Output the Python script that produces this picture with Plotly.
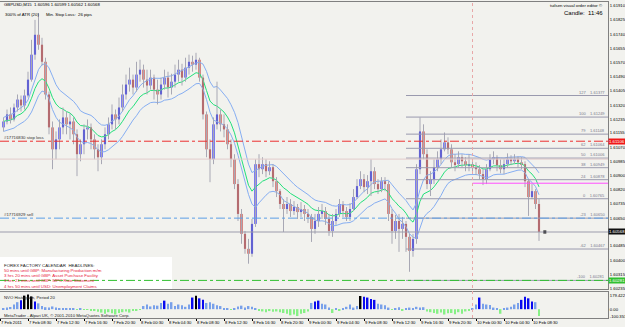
import plotly.graph_objects as go
import pandas as pd

# ---------------- data ----------------
title_text = "GBPUSD,M15  1.60596 1.60599 1.60562 1.60568"
bar_start = "2011-02-07 05:00"
first_open = 1.61188

close = [
1.61223, 1.61265, 1.61235, 1.61306, 1.61353, 1.61318, 1.61377, 1.61471, 1.61619, 1.61737,
1.61678, 1.61577, 1.61383, 1.61188, 1.61058, 1.61117, 1.61188, 1.61247, 1.61206, 1.61223,
1.61147, 1.61029, 1.61088, 1.61176, 1.61188, 1.61117, 1.61058, 1.61011, 1.61088, 1.61147,
1.61206, 1.61265, 1.61235, 1.61306, 1.61383, 1.61442, 1.61471, 1.61424, 1.61501, 1.61530,
1.61471, 1.61436, 1.61483, 1.61412, 1.61383, 1.61442, 1.61483, 1.61424, 1.61459, 1.61501,
1.61530, 1.61483, 1.61542, 1.61577, 1.61560, 1.61589, 1.61483, 1.61265, 1.61058, 1.60999,
1.61206, 1.61265, 1.61206, 1.61176, 1.61088, 1.60999, 1.60852, 1.60675, 1.60557, 1.60468,
1.60439, 1.60616, 1.60970, 1.60940, 1.60970, 1.60928, 1.60952, 1.60869, 1.60810, 1.60734,
1.60704, 1.60734, 1.60692, 1.60716, 1.60686, 1.60704, 1.60675, 1.60657, 1.60586, 1.60633,
1.60675, 1.60692, 1.60645, 1.60574, 1.60633, 1.60675, 1.60734, 1.60692, 1.60657, 1.60704,
1.60775, 1.60840, 1.60881, 1.60834, 1.60869, 1.60928, 1.60852, 1.60822, 1.60869, 1.60852,
1.60675, 1.60574, 1.60633, 1.60586, 1.60616, 1.60539, 1.60456, 1.60527, 1.60940, 1.61164,
1.61029, 1.60852, 1.60881, 1.60952, 1.60999, 1.61058, 1.61099, 1.61058, 1.60981, 1.60970,
1.61011, 1.60987, 1.60964, 1.60970, 1.60952, 1.60940, 1.60911, 1.60881, 1.60940, 1.60999,
1.61011, 1.60964, 1.60940, 1.60970, 1.60999, 1.60987, 1.60999, 1.60981, 1.60970, 1.60869,
1.60775, 1.60810, 1.60734, 1.60568]

high = [
1.61247, 1.61294, 1.61306, 1.61329, 1.61383, 1.61377, 1.61412, 1.61518, 1.61707, 1.61825,
1.61866, 1.61719, 1.61601, 1.61400, 1.61223, 1.61164, 1.61235, 1.61306, 1.61282, 1.61270,
1.61247, 1.61176, 1.61117, 1.61206, 1.61235, 1.61211, 1.61147, 1.61088, 1.61117, 1.61188,
1.61247, 1.61324, 1.61294, 1.61365, 1.61442, 1.61501, 1.61542, 1.61501, 1.61577, 1.61589,
1.61560, 1.61530, 1.61530, 1.61501, 1.61471, 1.61483, 1.61530, 1.61518, 1.61506, 1.61560,
1.61589, 1.61565, 1.61601, 1.61619, 1.61613, 1.61630, 1.61601, 1.61501, 1.61282, 1.61117,
1.61247, 1.61459, 1.61294, 1.61265, 1.61206, 1.61117, 1.61029, 1.60881, 1.60704, 1.60574,
1.60527, 1.60645, 1.60999, 1.61029, 1.61011, 1.60999, 1.60987, 1.60970, 1.60893, 1.60822,
1.60763, 1.60775, 1.60763, 1.60751, 1.60734, 1.60745, 1.60728, 1.60704, 1.60675, 1.60675,
1.60716, 1.60734, 1.60716, 1.60675, 1.60675, 1.60704, 1.60763, 1.60751, 1.60716, 1.60739,
1.60822, 1.60881, 1.60928, 1.60911, 1.60905, 1.60999, 1.60952, 1.60881, 1.60893, 1.60893,
1.60869, 1.60704, 1.60669, 1.60675, 1.60657, 1.60633, 1.60557, 1.60557, 1.60970, 1.61247,
1.61206, 1.61058, 1.60928, 1.60999, 1.61046, 1.61117, 1.61158, 1.61129, 1.61088, 1.61029,
1.61046, 1.61029, 1.61011, 1.61029, 1.60999, 1.60981, 1.60964, 1.60940, 1.60970, 1.61029,
1.61046, 1.61023, 1.60999, 1.60999, 1.61034, 1.61023, 1.61029, 1.61017, 1.61011, 1.60987,
1.60881, 1.60852, 1.60822, 1.60763]

low = [
1.61164, 1.61206, 1.61211, 1.61223, 1.61282, 1.61282, 1.61294, 1.61365, 1.61459, 1.61589,
1.61648, 1.61554, 1.61353, 1.61147, 1.60940, 1.60999, 1.61058, 1.61147, 1.61147, 1.61117,
1.61088, 1.60899, 1.60987, 1.61029, 1.61117, 1.61058, 1.60999, 1.60928, 1.60970, 1.61058,
1.61117, 1.61176, 1.61176, 1.61206, 1.61282, 1.61353, 1.61400, 1.61383, 1.61400, 1.61459,
1.61424, 1.61383, 1.61412, 1.61353, 1.61324, 1.61353, 1.61412, 1.61365, 1.61383, 1.61424,
1.61459, 1.61436, 1.61459, 1.61501, 1.61518, 1.61530, 1.61459, 1.61235, 1.61011, 1.60863,
1.60970, 1.61176, 1.61164, 1.61129, 1.61058, 1.60952, 1.60822, 1.60633, 1.60498, 1.60439,
1.60380, 1.60421, 1.60598, 1.60893, 1.60911, 1.60893, 1.60905, 1.60834, 1.60775, 1.60704,
1.60568, 1.60675, 1.60657, 1.60669, 1.60645, 1.60657, 1.60633, 1.60621, 1.60509, 1.60557,
1.60598, 1.60645, 1.60610, 1.60545, 1.60539, 1.60610, 1.60657, 1.60657, 1.60633, 1.60633,
1.60692, 1.60763, 1.60822, 1.60804, 1.60793, 1.60781, 1.60822, 1.60793, 1.60804, 1.60810,
1.60633, 1.60498, 1.60527, 1.60450, 1.60527, 1.60450, 1.60332, 1.60421, 1.60498, 1.60911,
1.60999, 1.60822, 1.60781, 1.60852, 1.60928, 1.60970, 1.61046, 1.61029, 1.60952, 1.60928,
1.60952, 1.60952, 1.60928, 1.60928, 1.60916, 1.60905, 1.60881, 1.60846, 1.60852, 1.60928,
1.60970, 1.60928, 1.60916, 1.60911, 1.60952, 1.60964, 1.60970, 1.60952, 1.60940, 1.60834,
1.60663, 1.60763, 1.60704, 1.60515]

nvo = [
10, 20, 28, 60, 90, 115, 175, 190, 165, 100,
75, 40, 25, 20, 35, 20, 15, 10, 8, 5,
5, -5, 5, -8, -10, -15, -20, -35, -45, -60,
-40, -55, -70, -50, -40, -30, -45, -25, -20, -10,
40, 60, 35, 50, 45, 80, 110, 70, 90, 40,
60, 50, 30, 60, 150, 175, 140, 120, 80, 90,
70, 50, 40, 10, 5, -5, 8, 35, 45, 20,
40, 30, 10, -20, -30, -40, -25, -35, -30, -40,
-50, -60, -80, -70, -90, -60, -50, -30, 80, 100,
110, 70, 60, 20, -50, 10, -20, 15, 30, 60,
20, 40, 170, 160, 150, 130, 120, 70, 60, 50,
20, -10, 15, 25, -20, 10, 20, 15, 30, 20,
25, -30, -40, -50, -60, -45, -70, -55, -50, -65,
-40, -60, -30, -20, 5, 60, 150, 70, 60, 55,
20, 10, -60, 15, 20, 30, 60, 80, 120, 160,
140, 100, 90, -90]

price_ticks = [1.61910, 1.61825, 1.61740, 1.61655, 1.61570, 1.61490, 1.61405, 1.61320,
               1.61235, 1.61155, 1.61070, 1.60985, 1.60900, 1.60820, 1.60735, 1.60650,
               1.60485, 1.60400, 1.60315, 1.60235]
nvo_ticks = [179.422, 0.0, -100.353]
nvo_tick_text = ["179.422", "0.00", "-100.353"]

time_ticks = ["2011-02-07 04:30", "2011-02-07 08:30", "2011-02-07 12:30", "2011-02-07 16:30",
              "2011-02-07 20:30", "2011-02-08 00:30", "2011-02-08 04:30", "2011-02-08 08:30",
              "2011-02-08 12:30", "2011-02-08 16:30", "2011-02-08 20:30", "2011-02-09 00:30",
              "2011-02-09 04:30", "2011-02-09 08:30", "2011-02-09 12:30", "2011-02-09 16:30",
              "2011-02-09 20:30", "2011-02-10 00:30", "2011-02-10 04:30", "2011-02-10 08:30"]
time_tick_text = ["7 Feb 2011", "7 Feb 08:30", "7 Feb 12:30", "7 Feb 16:30", "7 Feb 20:30",
                  "8 Feb 00:30", "8 Feb 04:30", "8 Feb 08:30", "8 Feb 12:30", "8 Feb 16:30",
                  "8 Feb 20:30", "9 Feb 00:30", "9 Feb 04:30", "9 Feb 08:30", "9 Feb 12:30",
                  "9 Feb 16:30", "9 Feb 20:30", "10 Feb 00:30", "10 Feb 04:30", "10 Feb 08:30"]

fib_levels = ["127", "100", "79", "62", "50", "38", "24", "0", "-23", "-62", "-100"]
fib_prices = [1.61377, 1.61249, 1.61148, 1.61064, 1.61006, 1.60949, 1.60878,
              1.60765, 1.60650, 1.60467, 1.60281]
fib_start = "2011-02-09 14:30"

stop_loss = 1.61106
sell_price = 1.60650
bid_price = 1.60568
take_profit = 1.60281
round_level = 1.61000
magenta_level = 1.60857
day_separator = "2011-02-10 00:00"
last_tick_time = "2011-02-10 10:20"

calendar_head = "FOREX FACTORY CALENDAR  HEADLINES:"
calendar_lines = ["50 mins until GBP: Manufacturing Production m/m",
                  "3 hrs 20 mins until GBP: Asset Purchase Facility",
                  "3 hrs 21 mins until GBP: MPC Rate Statement",
                  "4 hrs 50 mins until USD: Unemployment Claims"]

# ---------------- styling ----------------
BG = "#f2f2ee"
BULL = "#1c1cf0"
BEAR = "#c0302c"
WICK = "#a8a8b4"
FONT = "Liberation Sans, Arial, sans-serif"
FS = 4.3

W, H = 625, 327
ML, MR, MT, MB = 0, 17, 2, 9
PW, PH = W - ML - MR, H - MT - MB
X_END = "2011-02-10 19:21:26"


def px_x(px):
    return px / PW


def px_y(py):
    return (H - MB - py) / PH


def ema(vals, n):
    a = 2.0 / (n + 1)
    out, e = [], vals[0]
    for v in vals:
        e = e + a * (v - e)
        out.append(e)
    return out


times = pd.date_range(bar_start, periods=len(close), freq="30min")
opens = [first_open] + close[:-1]

fig = go.Figure()

# moving average channel
for series, col in ((high, "#86aef2"), (low, "#86aef2"), (close, "#22e07a")):
    fig.add_trace(go.Scatter(x=times, y=ema(series, 12), mode="lines",
                             line=dict(color=col, width=1), hoverinfo="skip",
                             xaxis="x", yaxis="y"))

# wicks
wx, wy = [], []
for t, h_, l_ in zip(times, high, low):
    wx += [t, t, None]
    wy += [l_, h_, None]
fig.add_trace(go.Scatter(x=wx, y=wy, mode="lines", line=dict(color=WICK, width=1),
                         hoverinfo="skip", xaxis="x", yaxis="y"))

# bodies
base = [min(o, c) for o, c in zip(opens, close)]
body = [max(abs(c - o), 0.00003) for o, c in zip(opens, close)]
bcol = [BULL if c >= o else BEAR for o, c in zip(opens, close)]
fig.add_trace(go.Bar(x=times, y=body, base=base, marker=dict(color=bcol, line=dict(width=0)),
                     width=0.3 * 3600 * 1000, xaxis="x", yaxis="y"))

# last tick marker
fig.add_trace(go.Scatter(x=[last_tick_time], y=[bid_price], mode="markers",
                         marker=dict(symbol="square", size=3, color="#000"),
                         xaxis="x", yaxis="y"))

# NVO histogram
vcol = []
for v in nvo:
    if v >= 165:
        vcol.append("#000000")
    elif v >= 100:
        vcol.append("#0a0af0")
    elif v > 0:
        vcol.append("#78a0ea")
    else:
        vcol.append("#86f086")
fig.add_trace(go.Bar(x=times, y=nvo, marker=dict(color=vcol, line=dict(width=0)),
                     width=0.26 * 3600 * 1000, xaxis="x2", yaxis="y2"))

shapes = []
# calendar box
shapes.append(dict(type="rect", xref="paper", yref="paper", x0=0, x1=px_x(172),
                   y0=px_y(289), y1=px_y(257), fillcolor="#ffffff", line=dict(width=0),
                   layer="below"))
# fib levels
for p in fib_prices:
    shapes.append(dict(type="line", xref="x", yref="y", x0=fib_start, x1=X_END, y0=p, y1=p,
                       line=dict(color="#9a9aae", width=1)))
# order / price lines
shapes += [
    dict(type="line", xref="x domain", yref="y", x0=0, x1=1, y0=round_level, y1=round_level,
         line=dict(color="#e2cccc", width=1)),
    dict(type="line", xref="x domain", yref="y", x0=0, x1=1, y0=stop_loss, y1=stop_loss,
         line=dict(color="#ec3030", width=1, dash="dashdot")),
    dict(type="line", xref="x domain", yref="y", x0=0, x1=1, y0=sell_price, y1=sell_price,
         line=dict(color="#5c9ee6", width=1, dash="dashdot")),
    dict(type="line", xref="x domain", yref="y", x0=0, x1=1, y0=bid_price, y1=bid_price,
         line=dict(color="#9c9cac", width=1.2)),
    dict(type="line", xref="x domain", yref="y", x0=0, x1=1, y0=take_profit, y1=take_profit,
         line=dict(color="#30c030", width=1, dash="dashdot")),
    dict(type="line", xref="x", yref="y", x0=day_separator, x1=X_END,
         y0=magenta_level, y1=magenta_level, line=dict(color="#ff50ff", width=1)),
    dict(type="line", xref="x", yref="paper", x0=day_separator, x1=day_separator, y0=0, y1=1,
         line=dict(color="#e8a8a8", width=1, dash="dot")),
]

ann = []


def txt(x, y, s, size=FS, color="#000", xanchor="left", yanchor="middle", xref="paper",
        yref="paper", bg=None):
    d = dict(x=x, y=y, text=s, showarrow=False, xref=xref, yref=yref, xanchor=xanchor,
             yanchor=yanchor, font=dict(size=size, color=color, family=FONT),
             borderpad=0)
    if bg:
        d["bgcolor"] = bg
    ann.append(d)


txt(px_x(3), px_y(4.5), title_text)
txt(px_x(4), px_y(14.5), "300% of ATR (20)      Min. Stop Loss:  26 pips")
txt(px_x(604), px_y(5), "tuilsen visual order editor \u00a9", xanchor="right")
txt(px_x(604), px_y(13.5), "Candle:  11:46", size=6, xanchor="right")

for lvl, p in zip(fib_levels, fib_prices):
    txt(px_x(606), p, f"{lvl}    {p:.5f}", size=4, color="#78788c", xanchor="right",
        yanchor="bottom", yref="y")

txt(px_x(3), stop_loss, "#17716830 stop loss", yanchor="bottom", yref="y", color="#303030")
txt(px_x(3), sell_price, "#17716929 sell", yanchor="bottom", yref="y", color="#303030")

txt(1.0, stop_loss, f"{stop_loss:.5f}", color="#ffffff", yref="y", bg="#f01818")
txt(1.0, bid_price, f"{bid_price:.5f}", color="#ffffff", yref="y", bg="#101010")
txt(1.0, take_profit, f"{take_profit:.5f}", color="#ffffff", yref="y", bg="#30c030")

txt(px_x(3), px_y(265), calendar_head, size=4.4, color="#202020")
for k, line in enumerate(calendar_lines):
    txt(px_x(3), px_y(270.7 + 5.1 * k), line, size=4.4, color="#e8203c")

txt(px_x(3), px_y(297), "NVO Histogram, Period 20", color="#202020")
txt(px_x(3), px_y(315), "MetaTrader - Alpari UK, \u00a9 2001-2010 MetaQuotes Software Corp.",
    color="#202020")

AX = "#808080"
xr = ["2011-02-07 04:30", X_END]
fig.update_layout(
    template="none",
    width=W, height=H, margin=dict(l=ML, r=MR, t=MT, b=MB, pad=0),
    paper_bgcolor=BG, plot_bgcolor=BG, showlegend=False, barmode="overlay",
    font=dict(family=FONT, size=FS, color="#000"),
    xaxis=dict(domain=[0, 1], anchor="y", range=xr, showticklabels=False, showgrid=False,
               zeroline=False, showline=True, mirror=True, linecolor=AX, linewidth=1,
               ticks="", automargin=False),
    xaxis2=dict(domain=[0, 1], anchor="y2", matches="x", range=xr, tickvals=time_ticks,
                ticktext=time_tick_text, ticks="outside", ticklen=2, tickcolor="#000",
                tickangle=0, ticklabelposition="outside right", showgrid=False,
                zeroline=False, showline=True, mirror=True, linecolor=AX, linewidth=1,
                automargin=False, tickfont=dict(size=4.2, family=FONT, color="#000")),
    yaxis=dict(domain=[px_y(289), 1], anchor="x", side="right",
               range=[1.60230, 1.619312], tickvals=price_ticks,
               ticktext=[f"{p:.5f}" for p in price_ticks], showgrid=False, zeroline=False,
               showline=True, mirror=True, linecolor=AX, linewidth=1, ticks="",
               automargin=False, tickfont=dict(size=4.2, family=FONT, color="#000")),
    yaxis2=dict(domain=[0, px_y(292)], anchor="x2", side="right", range=[-115, 222],
                tickvals=nvo_ticks, ticktext=nvo_tick_text, showgrid=False, zeroline=False,
                showline=True, mirror=True, linecolor=AX, linewidth=1, ticks="",
                automargin=False, tickfont=dict(size=4.2, family=FONT, color="#000")),
    shapes=shapes, annotations=ann,
)

fig.write_html("out.html")
